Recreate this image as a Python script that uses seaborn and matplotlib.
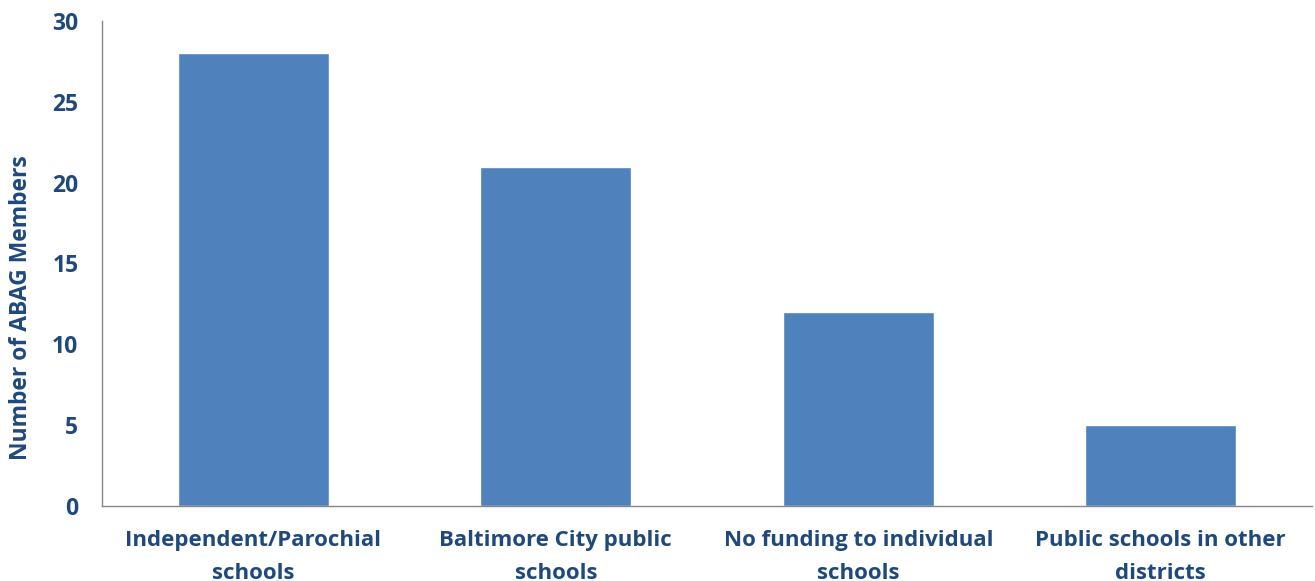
#!/usr/bin/env python3

import matplotlib.pyplot as plt
import pandas as pd
import seaborn as sns

categories = ['Independent/Parochial\nschools', 'Baltimore City public\nschools',
              'No funding to individual\nschools', 'Public schools in other\ndistricts']
members = [28, 21, 12, 5]
yticks = [0, 5, 10, 15, 20, 25, 30]

text_color = '#1F497D'
bar_color = '#4F81BD'
axis_color = '#868686'

sns.set_style('white')
plt.rcParams['font.family'] = ['Open Sans', 'DejaVu Sans']
plt.rcParams['font.weight'] = 'bold'

df = pd.DataFrame({'category': categories, 'members': members})

fig = plt.figure(figsize=(13.15, 5.81), dpi=100)
ax = fig.add_axes([102 / 1315, 1 - 506 / 581, (1312 - 102) / 1315, (506 - 21) / 581])
sns.barplot(data=df, x='category', y='members', color=bar_color, saturation=1,
            width=0.5, ax=ax)

ax.set_xlim(-0.5, 3.5)
ax.set_ylim(0, 30)
ax.set_yticks(yticks)
ax.set_yticklabels([str(t) for t in yticks], color=text_color, fontsize=16.5, fontweight='bold')
ax.set_xticks(range(4))
ax.set_xticklabels(categories, color=text_color, fontsize=16, fontweight='bold',
                   linespacing=1.75)
ax.set_xticks([-0.5, 0.5, 1.5, 2.5, 3.5], minor=True)
ax.tick_params(axis='x', which='major', length=0, pad=17)
ax.tick_params(axis='x', which='minor', length=5, width=1, color=axis_color)
ax.tick_params(axis='y', length=5, width=1, color=axis_color, pad=12)
ax.set_xlabel('')
ax.set_ylabel('Number of ABAG Members', color=text_color, fontsize=16.5,
              fontweight='bold')
ax.yaxis.set_label_coords(-0.057, 0.41)

sns.despine(ax=ax)
for side in ['left', 'bottom']:
    ax.spines[side].set_color(axis_color)
    ax.spines[side].set_linewidth(1)

plt.savefig('out.png', dpi=100)
